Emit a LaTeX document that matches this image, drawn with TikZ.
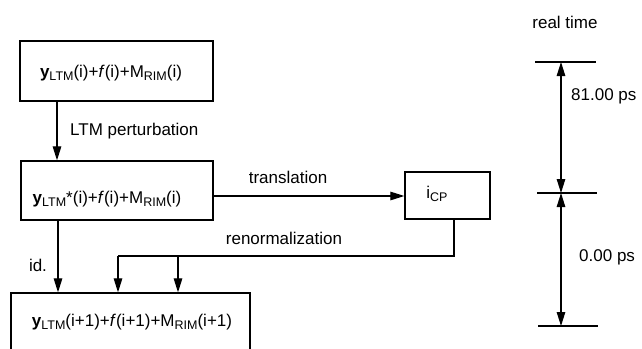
\documentclass[tikz,border=0pt]{standalone}
\usepackage{fontspec}
\setmainfont{Liberation Sans}
\usetikzlibrary{arrows.meta}
\newcommand\lsub[1]{\raisebox{-0.3ex}{\fontsize{12.5}{12.5}\selectfont #1}}
\begin{document}
\begin{tikzpicture}[x=1pt,y=-1pt,
  txt/.style={font=\fontsize{17}{20}\selectfont, inner sep=0pt},
  box/.style={draw, line width=1.3pt, inner sep=0pt},
  ln/.style={line width=1.2pt},
  arr/.style={ln, -{Triangle[length=14pt,width=8.5pt]}},
  darr/.style={ln, {Triangle[length=14pt,width=8.5pt]}-{Triangle[length=14pt,width=8.5pt]}}]
\useasboundingbox (0,0) rectangle (642,348);
\clip (0,0) rectangle (642,348);
% boxes
\node[box, minimum width=193pt, minimum height=60pt] (b1) at (116.5,71) {};
\node[box, minimum width=192pt, minimum height=59pt] (b2) at (117,190.5) {};
\node[box, minimum width=239pt, minimum height=70pt] (b3) at (130.5,328) {};
\node[box, minimum width=85pt, minimum height=47pt] (bc) at (447.5,195.5) {};
% box texts
\node[txt] (t1) at (111,73) {{\bfseries y}\lsub{LTM}(i)+\textit{f}(i)+M\lsub{RIM}(i)};
\node[txt] (t2) at (107,199) {{\bfseries y}\lsub{LTM}*(i)+\textit{f}(i)+M\lsub{RIM}(i)};
\node[txt] (t3) at (132,322) {{\bfseries y}\lsub{LTM}(i+1)+\textit{f}(i+1)+M\lsub{RIM}(i+1)};
\node[txt] (tc) at (437,194) {i\lsub{CP}};
% connector coordinates
\coordinate (r1) at (454,256);
\coordinate (r2) at (178,256);
\coordinate (r3) at (118,256);
% connectors
\draw[arr] (b1.south -| 57,0) -- (b2.north -| 57,0);
\draw[arr] (b2.south -| 58,0) -- (b3.north -| 58,0);
\draw[arr] (b2.east |- 0,196) -- (bc.west |- 0,196);
\draw[ln] (bc.south -| r1) -- (r1) -- (r3);
\draw[arr] (r3) -- (b3.north -| r3);
\draw[arr] (r2) -- (b3.north -| r2);
% labels
\node[txt, anchor=west] (lp) at (70,131) {LTM perturbation};
\node[txt] (lt) at (288,177) {translation};
\node[txt] (lr) at (284,238) {renormalization};
\node[txt] (li) at (38,265) {id.};
% time axis
\coordinate (k1l) at (535,62); \coordinate (k1r) at (596,62);
\coordinate (k2l) at (537,193); \coordinate (k2r) at (597,193);
\coordinate (k3l) at (538,326); \coordinate (k3r) at (598,326);
\draw[ln] (k1l) -- (k1r);
\draw[ln] (k2l) -- (k2r);
\draw[ln] (k3l) -- (k3r);
\coordinate (a1) at (561,62);
\coordinate (a2) at (561,193);
\coordinate (a3) at (561,326);
\draw[darr] (a1) -- (a2);
\draw[darr] (a2) -- (a3);
\node[txt] (rt) at (565,22) {real time};
\node[txt, anchor=west] (p1) at (571,96) {81.00 ps};
\node[txt, anchor=west] (p2) at (579,257) {0.00 ps};
\end{tikzpicture}
\end{document}
